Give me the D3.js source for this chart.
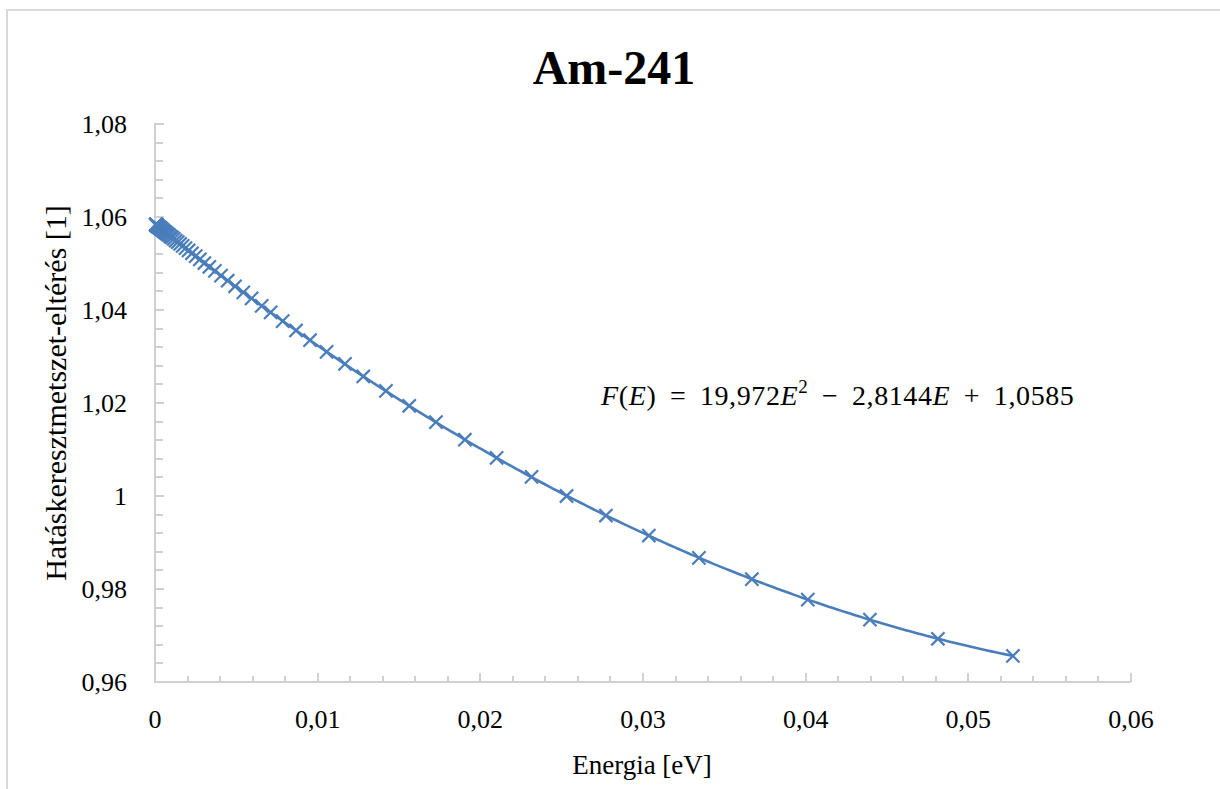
<!DOCTYPE html>
<html>
<head>
<meta charset="utf-8">
<script src="https://cdn.jsdelivr.net/npm/d3@7"></script>
<style>
  html, body { margin: 0; padding: 0; background: #ffffff; }
  svg { display: block; }
  text { font-family: "Liberation Serif", "Times New Roman", serif; fill: #000; }
</style>
</head>
<body>
<svg id="chart" width="1220" height="789"></svg>
<script>
// ---------------- data ----------------
const chartTitle = "Am-241";
const xAxisTitle = "Energia [eV]";
const yAxisTitle = "Hatáskeresztmetszet-eltérés [1]";

const xTickValues = [0, 0.01, 0.02, 0.03, 0.04, 0.05, 0.06];
const xTickLabels = ["0", "0,01", "0,02", "0,03", "0,04", "0,05", "0,06"];
const yTickValues = [0.96, 0.98, 1.00, 1.02, 1.04, 1.06, 1.08];
const yTickLabels = ["0,96", "0,98", "1", "1,02", "1,04", "1,06", "1,08"];

// Energy [eV] of each measured point
const energy = [
  0.05274, 0.04813, 0.04395, 0.04013, 0.03669, 0.03344, 0.03036, 0.02772, 0.02530, 0.02315,
  0.02100, 0.01905, 0.01727, 0.01563, 0.01420, 0.01280, 0.01168, 0.01055, 0.00953, 0.00867,
  0.00785, 0.00711, 0.00656, 0.00594, 0.00543, 0.00492, 0.004467, 0.004056, 0.003683, 0.003344,
  0.003036, 0.002757, 0.002503, 0.002273, 0.002064, 0.001874, 0.001702, 0.001545, 0.001403, 0.001274,
  0.001157, 0.001050, 0.000954, 0.000866, 0.000786, 0.000714, 0.000648, 0.000589, 0.000535, 0.000485,
  0.000441, 0.000400, 0.000363, 0.000330, 0.000300, 0.000272, 0.000247, 0.000224, 0.000204, 0.000185,
  0.000168, 0.000153, 0.000139, 0.000126, 0.000114, 0.000104, 0.0000943, 0.0000856, 0.0000777, 0.0000706,
  0.0000641, 0.0000582, 0.0000528, 0.0000480
];
// Cross-section deviation [1] of each point
const deviation = [
  0.9656, 0.9693, 0.9734, 0.9777, 0.9821, 0.9867, 0.9915, 0.9958, 1.0000, 1.0041,
  1.0082, 1.0121, 1.0159, 1.0194, 1.0226, 1.0257, 1.0284, 1.0310, 1.0335, 1.0356,
  1.0376, 1.0395, 1.0409, 1.0425, 1.0438, 1.0451, 1.0463, 1.0474, 1.0484, 1.0493,
  1.0501, 1.0509, 1.0516, 1.0522, 1.0528, 1.0533, 1.0538, 1.0542, 1.0546, 1.0549,
  1.0553, 1.0556, 1.0558, 1.0561, 1.0563, 1.0565, 1.0567, 1.0568, 1.0570, 1.0571,
  1.0573, 1.0574, 1.0575, 1.0576, 1.0577, 1.0577, 1.0578, 1.0579, 1.0579, 1.0580,
  1.0580, 1.0581, 1.0581, 1.0581, 1.0582, 1.0582, 1.0582, 1.0583, 1.0583, 1.0583,
  1.0583, 1.0583, 1.0584, 1.0584
];
// Polynomial trendline coefficients: c0 + c1*E + c2*E^2
const trendCoef = [1.0585, -2.8144, 19.972];

// ---------------- layout ----------------
const svg = d3.select("#chart");
const plot = { left: 155, right: 1131, top: 124, bottom: 682 };
const axisColor = "#d0d0d0";
const seriesColor = "#4a7ebb";

const x = d3.scaleLinear().domain([0, 0.06]).range([plot.left, plot.right]);
const y = d3.scaleLinear().domain([0.96, 1.08]).range([plot.bottom, plot.top]);

// outer chart border
svg.append("rect")
  .attr("x", 7).attr("y", 10).attr("width", 1400).attr("height", 1000)
  .attr("fill", "none").attr("stroke", "#d9d9d9").attr("stroke-width", 2);

// title
svg.append("text")
  .attr("x", 614).attr("y", 84)
  .attr("text-anchor", "middle")
  .style("font-size", "48px").style("font-weight", "bold")
  .text(chartTitle);

// minor ticks
const xMinor = d3.range(0, 0.0601, 0.002);
const yMinor = d3.range(0.96, 1.0801, 0.004);
const g = svg.append("g");
g.selectAll(".xminor").data(xMinor).join("line")
  .attr("x1", d => Math.round(x(d))).attr("x2", d => Math.round(x(d)))
  .attr("y1", plot.bottom).attr("y2", plot.bottom - 6)
  .attr("stroke", axisColor).attr("stroke-width", 2);
g.selectAll(".yminor").data(yMinor).join("line")
  .attr("y1", d => Math.round(y(d))).attr("y2", d => Math.round(y(d)))
  .attr("x1", plot.left).attr("x2", plot.left + 8)
  .attr("stroke", axisColor).attr("stroke-width", 2);
// major ticks
g.selectAll(".xmajor").data(xTickValues).join("line")
  .attr("x1", d => Math.round(x(d))).attr("x2", d => Math.round(x(d)))
  .attr("y1", plot.bottom).attr("y2", plot.bottom - 9)
  .attr("stroke", axisColor).attr("stroke-width", 2);
g.selectAll(".ymajor").data(yTickValues).join("line")
  .attr("y1", d => Math.round(y(d))).attr("y2", d => Math.round(y(d)))
  .attr("x1", plot.left).attr("x2", plot.left + 9)
  .attr("stroke", axisColor).attr("stroke-width", 2);
// axis lines
g.append("line").attr("x1", plot.left).attr("x2", plot.right)
  .attr("y1", plot.bottom).attr("y2", plot.bottom)
  .attr("stroke", axisColor).attr("stroke-width", 2);
g.append("line").attr("x1", plot.left).attr("x2", plot.left)
  .attr("y1", plot.top - 1).attr("y2", plot.bottom + 1)
  .attr("stroke", axisColor).attr("stroke-width", 2);

// tick labels
svg.selectAll(".xlab").data(xTickValues).join("text")
  .attr("x", d => x(d)).attr("y", 728)
  .attr("text-anchor", "middle").style("font-size", "26px")
  .text((d, i) => xTickLabels[i]);
svg.selectAll(".ylab").data(yTickValues).join("text")
  .attr("x", 127).attr("y", d => y(d) + 9)
  .attr("text-anchor", "end").style("font-size", "26px")
  .text((d, i) => yTickLabels[i]);

// axis titles
svg.append("text")
  .attr("x", 642).attr("y", 774)
  .attr("text-anchor", "middle").style("font-size", "27px")
  .text(xAxisTitle);
svg.append("text")
  .attr("transform", "translate(66,393) rotate(-90)")
  .attr("text-anchor", "middle").style("font-size", "30px")
  .text(yAxisTitle);

// trendline
const eMin = d3.min(energy), eMax = d3.max(energy);
const trendPts = d3.range(0, 201).map(i => {
  const e = eMin + (eMax - eMin) * i / 200;
  return [e, trendCoef[0] + trendCoef[1] * e + trendCoef[2] * e * e];
});
svg.append("path")
  .attr("d", d3.line().x(d => x(d[0])).y(d => y(d[1])).curve(d3.curveLinear)(trendPts))
  .attr("fill", "none").attr("stroke", seriesColor).attr("stroke-width", 2.6);

// markers
const m = 6.6;
svg.append("g").selectAll("path").data(energy).join("path")
  .attr("transform", (d, i) => `translate(${x(d)},${y(deviation[i])})`)
  .attr("d", `M${-m},${-m}L${m},${m}M${-m},${m}L${m},${-m}`)
  .attr("stroke", seriesColor).attr("stroke-width", 2.2).attr("fill", "none");

// equation
const eq = svg.append("text")
  .attr("x", 601).attr("y", 405)
  .style("font-size", "28px").style("letter-spacing", "0.6px");
const gap = 6;
eq.append("tspan").style("font-style", "italic").text("F");
eq.append("tspan").text("(");
eq.append("tspan").style("font-style", "italic").text("E");
eq.append("tspan").text(")");
eq.append("tspan").attr("dx", gap).text(" = ");
eq.append("tspan").attr("dx", gap).text("19,972");
eq.append("tspan").style("font-style", "italic").text("E");
eq.append("tspan").attr("dy", -12).style("font-size", "19px").text("2");
eq.append("tspan").attr("dy", 12).attr("dx", gap).text(" − ");
eq.append("tspan").attr("dx", gap).text("2,8144");
eq.append("tspan").style("font-style", "italic").text("E");
eq.append("tspan").attr("dx", gap).text(" + ");
eq.append("tspan").attr("dx", gap).text("1,0585");
</script>
</body>
</html>
